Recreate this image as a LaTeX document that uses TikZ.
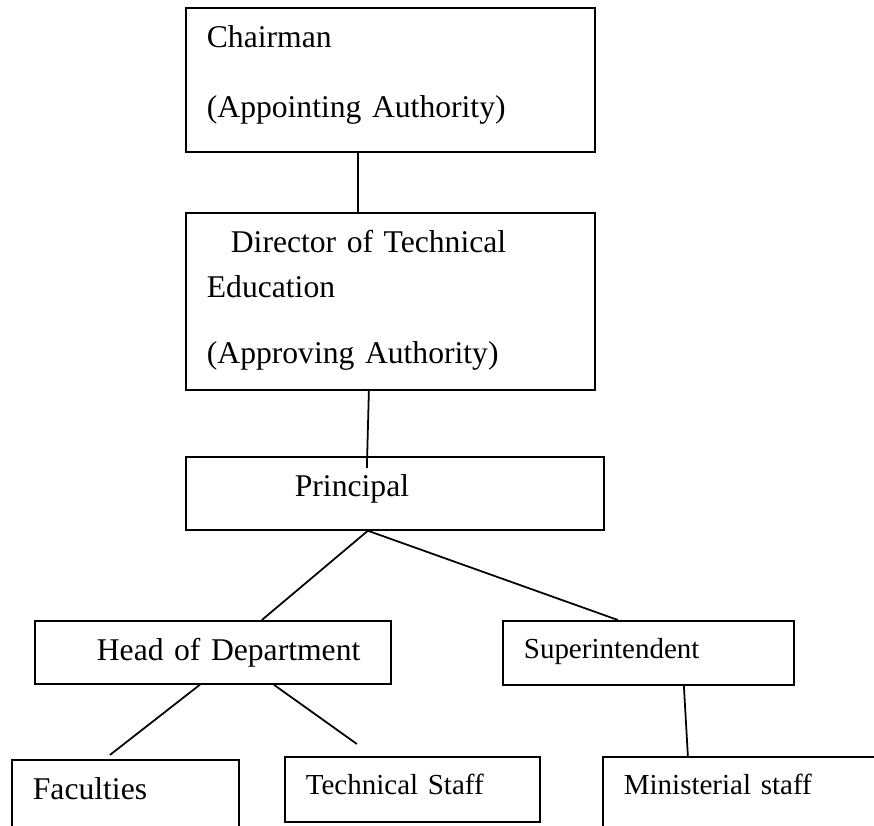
\documentclass[tikz,border=0pt]{standalone}
\usepackage{fontspec}
\setmainfont{Liberation Serif}

\begin{document}
\begin{tikzpicture}[line width=1pt,
  unitbox/.style={draw,anchor=north west,align=left,inner xsep=0.42cm,inner ysep=0pt},
  bigbox/.style={unitbox,text height=0.8cm,font=\fontsize{18}{25.5}\selectfont},
  smallbox/.style={unitbox,text height=0.76cm,font=\fontsize{16.5}{23}\selectfont}]

\useasboundingbox (0,0) rectangle (17.48,-16.52);
\clip (0,0) rectangle (17.48,-16.52);

\node[bigbox,text width=7.34cm,text depth=2.08cm] (chair) at (3.70,-0.14) {Chairman\\[14.2pt](Appointing Authority)};
\node[bigbox,text width=7.34cm,text depth=2.74cm] (dte) at (3.70,-4.24) {\hspace*{0.48cm}Director of Technical\\Education\\[11.9pt](Approving Authority)};
\node[bigbox,text width=7.52cm,text depth=0.66cm] (prin) at (3.70,-9.12) {\hspace*{1.76cm}Principal};
\node[bigbox,text width=6.28cm,text depth=0.46cm] (hod) at (0.68,-12.40) {\hspace*{0.82cm}Head of Department};
\node[smallbox,text width=4.98cm,text depth=0.52cm] (sup) at (10.04,-12.40) {Superintendent};
\node[bigbox,text width=3.70cm,text depth=1.0cm] (fac) at (0.22,-15.18) {Faculties};
\node[smallbox,text width=4.26cm,text depth=0.54cm] (tech) at (5.68,-15.12) {Technical Staff};
\node[smallbox,text width=4.80cm,text depth=1.0cm] (mini) at (12.04,-15.12) {Ministerial staff};

\draw ([xshift=-0.65cm]chair.south) -- ([xshift=-0.65cm]dte.north);
\draw ([xshift=-0.43cm]dte.south) -- ([xshift=-0.56cm,yshift=-0.24cm]prin.north);
\draw ([xshift=-0.54cm]prin.south) -- ([xshift=0.98cm]hod.north);
\draw ([xshift=-0.54cm]prin.south) -- ([xshift=-0.61cm]sup.north);
\draw ([xshift=-0.26cm]hod.south) -- ([xshift=-0.31cm,yshift=0.08cm]fac.north);
\draw ([xshift=1.22cm]hod.south) -- ([xshift=-1.11cm,yshift=0.24cm]tech.north);
\draw ([xshift=0.71cm]sup.south) -- ([xshift=-1.12cm]mini.north);

\end{tikzpicture}
\end{document}
